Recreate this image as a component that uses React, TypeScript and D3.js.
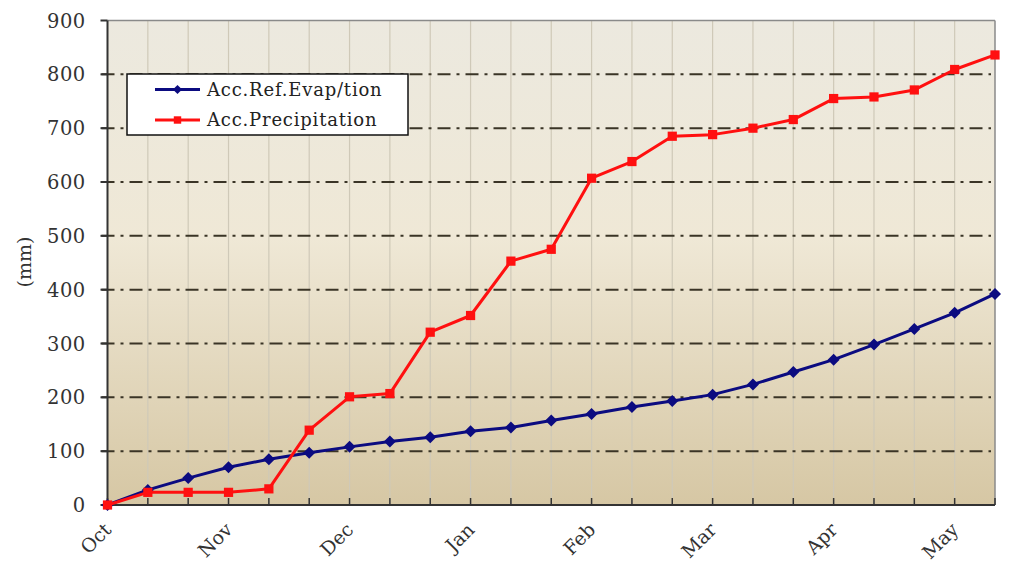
import React from "react";
import * as d3 from "d3";

const monthLabels = ["Oct", "Nov", "Dec", "Jan", "Feb", "Mar", "Apr", "May"];
const evapValues = [0, 28, 50, 70, 85, 97, 108, 118, 126, 137, 144, 157, 169, 182, 193, 205, 224, 247, 270, 298, 327, 357, 392];
const precipValues = [0, 23.5, 23.5, 23.5, 30, 139, 201, 207, 321, 352, 453, 475, 607, 638, 685, 688, 700, 716, 755, 758, 771, 809, 836];
const yTicks = [0, 100, 200, 300, 400, 500, 600, 700, 800, 900];
const seriesNames = ["Acc.Ref.Evap/tion", "Acc.Precipitation"];

const W = 1009, H = 567;
const left = 107.5, right = 995, top = 20.5, bottom = 505;
const FONT = "'DejaVu Serif', 'Liberation Serif', serif";
const BLUE = "#0B0B80";
const RED = "#FF1010";

export default function App() {
  const idx = d3.range(evapValues.length);
  const x = d3.scaleLinear().domain([0, evapValues.length - 1]).range([left, right]);
  const y = d3.scaleLinear().domain([0, 900]).range([bottom, top]);
  const line = d3.line<number>().x((_, i) => x(i)).y((d) => y(d));
  const diamond = d3.symbol().type(d3.symbolSquare).size(72)() || "";
  const square = d3.symbol().type(d3.symbolSquare).size(85)() || "";
  const diamondSmall = d3.symbol().type(d3.symbolSquare).size(42)() || "";
  const squareSmall = d3.symbol().type(d3.symbolSquare).size(55)() || "";

  return (
    <svg width={W} height={H} style={{ position: "absolute", left: 0, top: 0, display: "block" }}>
      <defs>
        <linearGradient id="bg" x1="0" y1="0" x2="0" y2="1">
          <stop offset="0" stopColor="#ECE9DF" />
          <stop offset="0.45" stopColor="#EFE8D6" />
          <stop offset="1" stopColor="#D6C7A4" />
        </linearGradient>
      </defs>
      <rect x={0} y={0} width={W} height={H} fill="#fff" />
      <rect x={left} y={top} width={right - left} height={bottom - top} fill="url(#bg)" />
      {idx.slice(1, -1).map((i) => (
        <line key={"vg" + i} x1={x(i)} x2={x(i)} y1={top} y2={bottom} stroke="#CFC9B8" strokeWidth={1.2} />
      ))}
      {yTicks.slice(1, -1).map((t) => (
        <line key={"hg" + t} x1={left - 6} x2={right - 4} y1={y(t)} y2={y(t)} stroke="#3A3426" strokeWidth={2} strokeDasharray="13,6,3,6" />
      ))}
      <line x1={left} x2={right} y1={top} y2={top} stroke="#8A8A8A" strokeWidth={1.5} />
      <line x1={right} x2={right} y1={top} y2={bottom} stroke="#8A8A8A" strokeWidth={1.5} />
      <line x1={left} x2={left} y1={top} y2={bottom} stroke="#333" strokeWidth={2} />
      <line x1={left} x2={right} y1={bottom} y2={bottom} stroke="#333" strokeWidth={2} />
      {yTicks.map((t) => (
        <g key={"yt" + t}>
          <line x1={left - 7} x2={left} y1={y(t)} y2={y(t)} stroke="#333" strokeWidth={2} />
          <text x={left - 22} y={y(t)} dy="0.36em" textAnchor="end" fontFamily={FONT} fontSize={19.5} letterSpacing={0.4} fill="#333">{t}</text>
        </g>
      ))}
      {idx.map((i) => (
        <line key={"xt" + i} x1={x(i)} x2={x(i)} y1={bottom} y2={bottom - 7} stroke="#333" strokeWidth={1.5} />
      ))}
      {monthLabels.map((m, k) => {
        const px = x(k * 3) + 5;
        const py = bottom + 26;
        return (
          <text key={m} x={px} y={py} transform={`rotate(-45,${px},${py})`} textAnchor="end" fontFamily={FONT} fontSize={19} fill="#333">{m}</text>
        );
      })}
      <text transform={`translate(31,262) rotate(-90)`} textAnchor="middle" fontFamily={FONT} fontSize={19} fill="#333">(mm)</text>
      <path d={line(evapValues) || ""} fill="none" stroke={BLUE} strokeWidth={3} strokeLinejoin="round" />
      {evapValues.map((v, i) => (
        <path key={"e" + i} d={diamond} transform={`translate(${x(i)},${y(v)}) rotate(45)`} fill={BLUE} />
      ))}
      <path d={line(precipValues) || ""} fill="none" stroke={RED} strokeWidth={3} strokeLinejoin="round" />
      {precipValues.map((v, i) => (
        <path key={"p" + i} d={square} transform={`translate(${x(i)},${y(v)})`} fill={RED} />
      ))}
      <rect x={127} y={74} width={281} height={61} fill="#fff" stroke="#111" strokeWidth={1.5} />
      {seriesNames.map((n, k) => {
        const ly = 89.5 + k * 30.5;
        const col = k === 0 ? BLUE : RED;
        return (
          <g key={n}>
            <line x1={155} x2={200} y1={ly} y2={ly} stroke={col} strokeWidth={3} />
            <path d={k === 0 ? diamondSmall : squareSmall} transform={`translate(177.5,${ly})${k === 0 ? " rotate(45)" : ""}`} fill={col} />
            <text x={207} y={ly} dy="0.36em" fontFamily={FONT} fontSize={18} letterSpacing={0.8} fill="#222">{n}</text>
          </g>
        );
      })}
    </svg>
  );
}
